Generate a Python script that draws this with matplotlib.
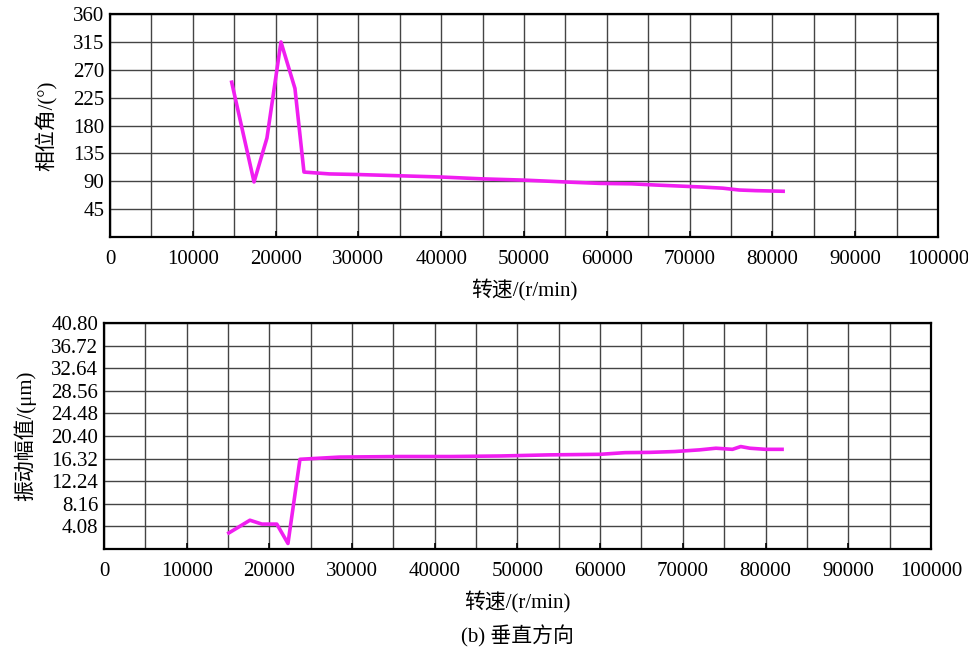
import matplotlib
matplotlib.use('Agg')
import matplotlib.pyplot as plt

# phase angle vs speed (top)
phase_rpm = [14700, 17400, 18960, 20650, 22340, 23430, 26500, 30000, 35000, 40000,
             45000, 50000, 55000, 59200, 63000, 66000, 71250, 74000, 76000, 78000, 81300]
phase_deg = [250, 89, 160, 315, 240, 105, 102, 101, 99, 97,
             94, 92, 89, 86.7, 86, 84, 81, 79, 76, 75, 74]

# vibration amplitude vs speed (bottom)
amp_rpm = [15100, 17650, 19100, 20900, 22250, 23700, 28500, 35800, 42000, 48000,
           53900, 60000, 63000, 66000, 69000, 72000, 74000, 76000, 77000, 78100, 80000, 82000]
amp_um = [2.9, 5.2, 4.5, 4.5, 1.0, 16.2, 16.6, 16.7, 16.7, 16.8,
          17.0, 17.1, 17.4, 17.45, 17.6, 17.9, 18.2, 18.0, 18.5, 18.2, 18.0, 18.0]

phase_ticks = [45, 90, 135, 180, 225, 270, 315, 360]
amp_ticks = [4.08, 8.16, 12.24, 16.32, 20.40, 24.48, 28.56, 32.64, 36.72, 40.80]
rpm_ticks = list(range(0, 100001, 10000))

NUM_FONT = 'Liberation Serif'
CJK = ['Liberation Serif', 'Noto Sans CJK SC']
LINE_COLOR = '#f01ef0'

fig = plt.figure(figsize=(9.68, 6.55), dpi=100)
ax_top = fig.add_axes([0.1136, 0.638, 0.8554, 0.3405])
ax_bot = fig.add_axes([0.1074, 0.1618, 0.8543, 0.345])


def style_axis(ax, yticks, ymax, fmt):
    ax.set_xlim(0, 100000)
    ax.set_ylim(0, ymax)
    ax.set_xticks(rpm_ticks)
    ax.set_xticks(range(5000, 100000, 10000), minor=True)
    ax.set_xticklabels([str(t) for t in rpm_ticks], fontfamily=NUM_FONT, fontsize=15)
    ax.set_yticks(yticks)
    ax.set_yticklabels([fmt.format(t) for t in yticks], fontfamily=NUM_FONT, fontsize=15)
    ax.grid(True, which='both', color='#444444', linewidth=1.0)
    ax.tick_params(axis='x', which='major', direction='in', length=4, width=1.2, pad=9)
    ax.tick_params(axis='x', which='minor', length=0)
    ax.tick_params(axis='y', length=0, pad=4)
    ax.tick_params(top=False, right=False)
    for s in ax.spines.values():
        s.set_linewidth(1.6)
        s.set_color('black')
    ax.set_axisbelow(True)


style_axis(ax_top, phase_ticks, 360, '{:d}')
ax_top.plot(phase_rpm, phase_deg, color=LINE_COLOR, linewidth=2.6)
ax_top.set_ylabel('相位角/(°)', family=CJK, fontsize=15, labelpad=11)
ax_top.set_xlabel('转速/(r/min)', family=CJK, fontsize=15, labelpad=8)

style_axis(ax_bot, amp_ticks, 40.80, '{:.2f}')
ax_bot.plot(amp_rpm, amp_um, color=LINE_COLOR, linewidth=2.6)
ax_bot.set_ylabel('振动幅值/(μm)', family=CJK, fontsize=15, labelpad=11)
ax_bot.set_xlabel('转速/(r/min)', family=CJK, fontsize=15, labelpad=8)

fig.text(0.535, 0.029, '(b) 垂直方向', family=CJK, fontsize=15, ha='center', va='center')

fig.savefig('out.png', dpi=100)
plt.close()
